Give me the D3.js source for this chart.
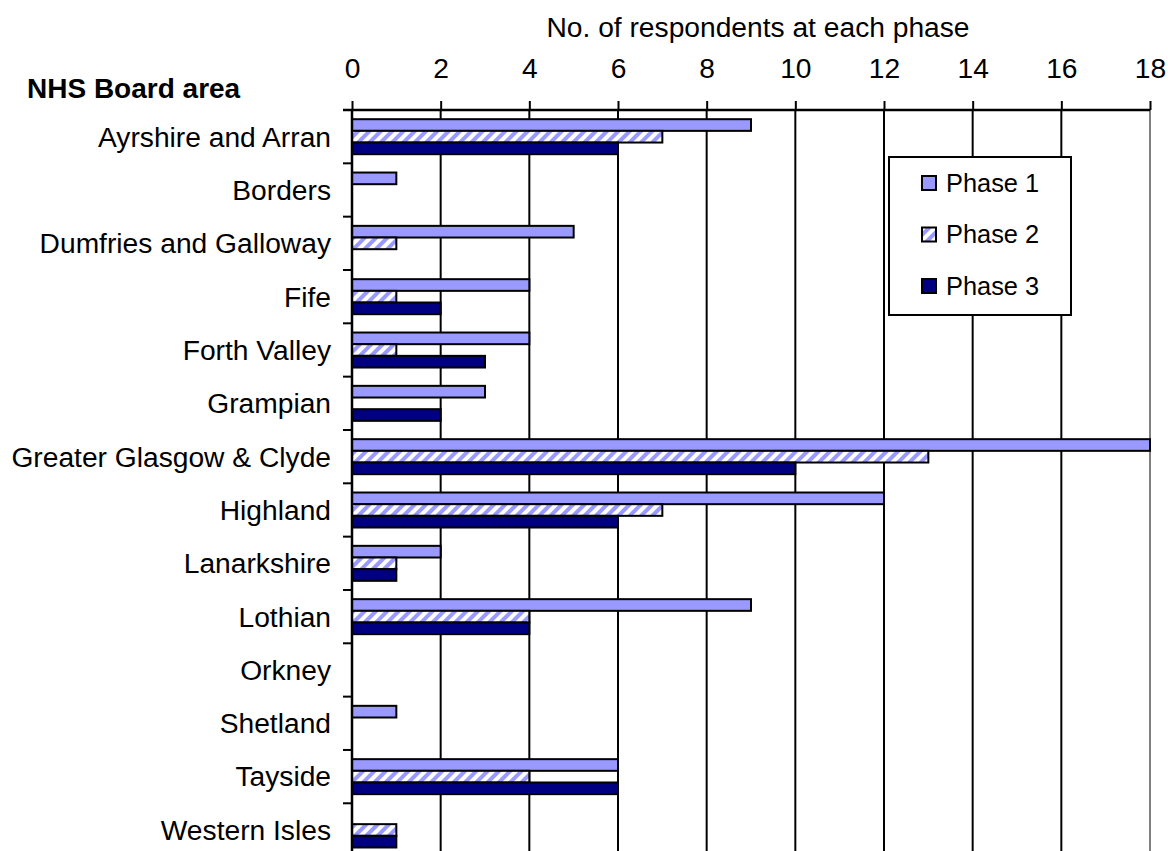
<!DOCTYPE html>
<html>
<head>
<meta charset="utf-8">
<script src="https://cdn.jsdelivr.net/npm/d3@7"></script>
<style>
  html, body { margin: 0; padding: 0; background: #fff; }
  svg { display: block; }
  text { font-family: "Liberation Sans", Arial, sans-serif; fill: #000; }
</style>
</head>
<body>
<svg id="chart" width="1168" height="851"></svg>
<script>
// ---- data ----
const categories = ["Ayrshire and Arran", "Borders", "Dumfries and Galloway", "Fife", "Forth Valley",
  "Grampian", "Greater Glasgow & Clyde", "Highland", "Lanarkshire", "Lothian", "Orkney",
  "Shetland", "Tayside", "Western Isles"];
const seriesNames = ["Phase 1", "Phase 2", "Phase 3"];
const phase1 = [9, 1, 5, 4, 4, 3, 18, 12, 2, 9, 0, 1, 6, 0];
const phase2 = [7, 0, 1, 1, 1, 0, 13, 7, 1, 4, 0, 0, 4, 1];
const phase3 = [6, 0, 0, 2, 3, 2, 10, 6, 1, 4, 0, 0, 6, 1];
const xTicks = [0, 2, 4, 6, 8, 10, 12, 14, 16, 18];
const axisTitle = "No. of respondents at each phase";
const yTitle = "NHS Board area";

const series = [phase1, phase2, phase3];

// ---- layout ----
const svg = d3.select("#chart");
const pLeft = 352, pRight = 1150, pTop = 110;
const step = 53.33;
const pBottom = pTop + step * categories.length;
const fs = 28.2;

const x = d3.scaleLinear().domain([0, 18]).range([pLeft, pRight]);
const y = d3.scaleBand().domain(categories).range([pTop, pBottom]).padding(0);
const yInner = d3.scaleBand().domain(seriesNames).range([9.2, 44.2]).padding(0);

// patterns
const defs = svg.append("defs");
const pat = defs.append("pattern").attr("id", "hatch")
  .attr("patternUnits", "userSpaceOnUse").attr("width", 8).attr("height", 8)
  .attr("patternTransform", "rotate(45)");
pat.append("rect").attr("width", 8).attr("height", 8).attr("fill", "#fff");
pat.append("rect").attr("width", 4).attr("height", 8).attr("fill", "#9999FF");

const fills = ["#9999FF", "url(#hatch)", "#000080"];

// gridlines
svg.append("g").selectAll("line").data(xTicks.filter(d => d > 0 && d < 18)).join("line")
  .attr("x1", d => x(d)).attr("x2", d => x(d))
  .attr("y1", pTop).attr("y2", pBottom)
  .attr("stroke", "#000").attr("stroke-width", 2);

// right border (grey)
svg.append("line").attr("x1", x(18)).attr("x2", x(18)).attr("y1", pTop).attr("y2", pBottom)
  .attr("stroke", "#808080").attr("stroke-width", 2);

// top axis
const xAxis = d3.axisTop(x).tickValues(xTicks).tickSize(9).tickPadding(23).tickFormat(d3.format("d"));
const gx = svg.append("g").attr("transform", `translate(0,${pTop})`).call(xAxis);
gx.select(".domain").attr("stroke", "#000").attr("stroke-width", 2.5)
  .attr("d", `M${pLeft - 9},0H${pRight}`);
gx.selectAll(".tick line").attr("stroke", "#000").attr("stroke-width", 2);
gx.selectAll(".tick text").attr("font-size", fs).attr("font-family", "Liberation Sans, Arial, sans-serif").attr("fill", "#000");

// bars
const barData = [];
categories.forEach((c, i) => {
  series.forEach((s, j) => {
    if (s[i] > 0) barData.push({ cat: c, phase: seriesNames[j], value: s[i], j });
  });
});
svg.append("g").selectAll("rect").data(barData).join("rect")
  .attr("x", x(0))
  .attr("y", d => y(d.cat) + yInner(d.phase))
  .attr("width", d => x(d.value) - x(0))
  .attr("height", yInner.bandwidth())
  .attr("fill", d => fills[d.j])
  .attr("stroke", "#000").attr("stroke-width", 2);

// left axis line and ticks at band boundaries
svg.append("line").attr("x1", pLeft).attr("x2", pLeft).attr("y1", pTop).attr("y2", pBottom)
  .attr("stroke", "#000").attr("stroke-width", 2.5);
const boundaries = d3.range(categories.length + 1).map(i => pTop + i * y.step());
svg.append("g").selectAll("line").data(boundaries).join("line")
  .attr("x1", pLeft - 9).attr("x2", pLeft)
  .attr("y1", d => d).attr("y2", d => d)
  .attr("stroke", "#000").attr("stroke-width", 2);

// category labels
svg.append("g").selectAll("text").data(categories).join("text")
  .attr("x", 331).attr("y", d => y(d) + y.bandwidth() / 2)
  .attr("dy", "0.35em").attr("text-anchor", "end")
  .attr("font-size", fs).text(d => d);

// titles
svg.append("text").attr("x", 758).attr("y", 37).attr("text-anchor", "middle")
  .attr("font-size", fs).text(axisTitle);
svg.append("text").attr("x", 27).attr("y", 98).attr("font-size", 28)
  .attr("font-weight", "bold").text(yTitle);

// legend
const lg = svg.append("g");
lg.append("rect").attr("x", 889).attr("y", 157).attr("width", 182).attr("height", 158)
  .attr("fill", "#fff").attr("stroke", "#000").attr("stroke-width", 2);
const ly = d3.scalePoint().domain(seriesNames).range([183, 286]);
seriesNames.forEach((n, j) => {
  lg.append("rect").attr("x", 922).attr("y", ly(n) - 7).attr("width", 14).attr("height", 14)
    .attr("fill", fills[j]).attr("stroke", "#000").attr("stroke-width", 2);
  lg.append("text").attr("x", 946).attr("y", ly(n)).attr("dy", "0.35em")
    .attr("font-size", 25.4).text(n);
});
</script>
</body>
</html>
